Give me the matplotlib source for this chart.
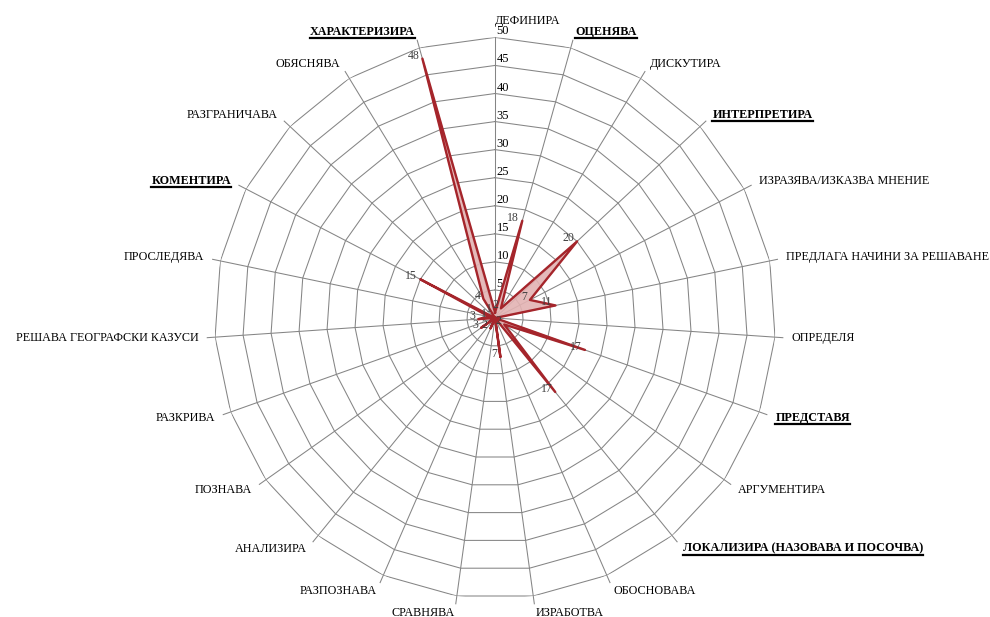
import matplotlib.pyplot as plt
from matplotlib.lines import Line2D
import numpy as np

# data (clockwise from top)
categories = ['ДЕФИНИРА', 'ОЦЕНЯВА', 'ДИСКУТИРА', 'ИНТЕРПРЕТИРА',
              'ИЗРАЗЯВА/ИЗКАЗВА МНЕНИЕ', 'ПРЕДЛАГА НАЧИНИ ЗА РЕШАВАНЕ',
              'ОПРЕДЕЛЯ', 'ПРЕДСТАВЯ', 'АРГУМЕНТИРА',
              'ЛОКАЛИЗИРА (НАЗОВАВА И ПОСОЧВА)', 'ОБОСНОВАВА', 'ИЗРАБОТВА',
              'СРАВНЯВА', 'РАЗПОЗНАВА', 'АНАЛИЗИРА', 'ПОЗНАВА', 'РАЗКРИВА',
              'РЕШАВА ГЕОГРАФСКИ КАЗУСИ', 'ПРОСЛЕДЯВА', 'КОМЕНТИРА',
              'РАЗГРАНИЧАВА', 'ОБЯСНЯВА', 'ХАРАКТЕРИЗИРА']
values = [1, 18, 2, 20, 7, 11, 0, 17, 2, 17, 0, 7,
          0, 2, 0, 3, 0, 3, 1, 15, 0, 4, 48]
highlighted = ['ОЦЕНЯВА', 'ИНТЕРПРЕТИРА', 'ПРЕДСТАВЯ',
               'ЛОКАЛИЗИРА (НАЗОВАВА И ПОСОЧВА)', 'КОМЕНТИРА', 'ХАРАКТЕРИЗИРА']
rticks = [0, 5, 10, 15, 20, 25, 30, 35, 40, 45, 50]

plt.rcParams['font.family'] = ['Liberation Serif', 'DejaVu Serif']

fig = plt.figure(figsize=(9.9, 6.17), dpi=100)
fig.patch.set_facecolor('white')
ax = fig.add_axes([0.2166, 0.0298, 0.5669, 0.9096], projection='polar')
ax.set_theta_zero_location('N')
ax.set_theta_direction(-1)
ax.set_ylim(0, 50)
ax.set_xticks([])
ax.set_yticks([])
ax.grid(False)
ax.spines['polar'].set_visible(False)
ax.patch.set_visible(False)

n = len(categories)
theta = np.arange(n) * 2 * np.pi / n
theta_c = np.append(theta, theta[0])

grid_col = '#858585'
# polygon rings
for r in rticks[1:]:
    ax.plot(theta_c, [r] * (n + 1), color=grid_col, lw=0.75, zorder=1)
# spokes
for i, t in enumerate(theta):
    ax.plot([t, t], [0, 50 if i == 0 else 51.4], color=grid_col, lw=0.75,
            zorder=1, clip_on=False)

# value axis labels
for r in rticks[1:]:
    ax.annotate(str(r), (0, r), xytext=(1, 0), textcoords='offset points',
                ha='left', va='bottom', fontsize=9, color='#000000')

# series
vals_c = values + values[:1]
ax.fill(theta_c, vals_c, color='#e3b3b3', alpha=0.9, zorder=2)
ax.plot(theta_c, vals_c, color='#a5252b', lw=1.7, zorder=3)

# data labels
for t, v in zip(theta, values):
    if v == 0:
        continue
    ax.annotate(str(v), (t, v), xytext=(-3, 3), textcoords='offset pixels',
                ha='right', va='center', fontsize=8.5, color='#404040', zorder=4)

# category labels
cat_texts = []
for t, c in zip(theta, categories):
    s = np.sin(t)
    ha = 'right' if s < -0.01 else 'left'
    bold = c in highlighted
    txt = ax.text(t, 53.0, c, ha=ha, va='center', fontsize=8.7,
                  fontweight='bold' if bold else 'normal', clip_on=False)
    if bold:
        cat_texts.append(txt)

# underline the highlighted categories
fig.canvas.draw()
renderer = fig.canvas.get_renderer()
inv = fig.transFigure.inverted()
for txt in cat_texts:
    bb = txt.get_window_extent(renderer)
    (x0, y0), (x1, y1) = inv.transform([(bb.x0, bb.y0), (bb.x1, bb.y0)])
    fig.add_artist(Line2D([x0, x1], [y0, y1], color='black', lw=1.6,
                          transform=fig.transFigure))

fig.savefig('out.png', dpi=100, facecolor='white')
